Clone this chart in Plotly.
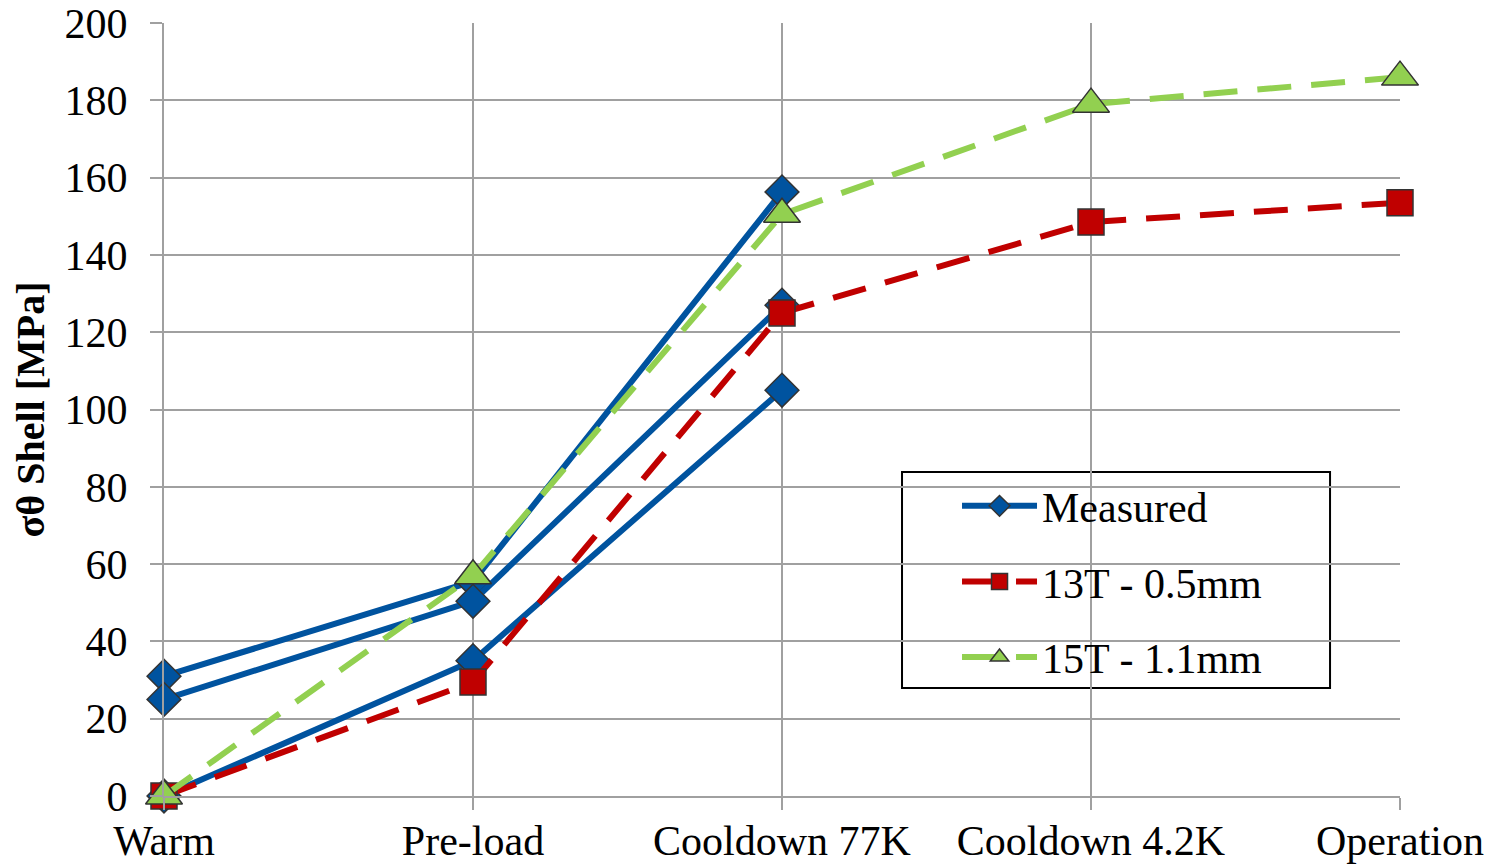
import plotly.graph_objects as go

stages = ["Warm", "Pre-load", "Cooldown 77K", "Cooldown 4.2K", "Operation"]

measured_a = [31, 55.5, 156.3]
measured_b = [25, 50.4, 127]
measured_c = [0, 35, 105]
t13 = [0, 29.5, 125, 148.5, 153.5]
t15 = [0, 57, 150.5, 179, 186]

blue = "#00539F"
red = "#C00000"
green = "#92D050"
edge = "#333333"
FONT = "Liberation Serif, Times New Roman, serif"

fig = go.Figure()

for i, ys in enumerate([measured_a, measured_b, measured_c]):
    fig.add_trace(go.Scatter(
        x=stages[:len(ys)], y=ys, mode="lines+markers",
        name="Measured", legendgroup="m", showlegend=(i == 0),
        line=dict(color=blue, width=6),
        marker=dict(symbol="diamond", size=26, color=blue, line=dict(color=edge, width=1.5)),
        cliponaxis=False,
    ))

fig.add_trace(go.Scatter(
    x=stages, y=t13, mode="lines+markers", name="13T - 0.5mm", legendgroup="a",
    line=dict(color=red, width=6, dash="34px,20px"),
    marker=dict(symbol="square", size=26, color=red, line=dict(color=edge, width=1.5)),
    cliponaxis=False,
))
fig.add_trace(go.Scatter(
    x=stages, y=t15, mode="lines+markers", name="15T - 1.1mm", legendgroup="b",
    line=dict(color=green, width=6, dash="34px,20px"),
    marker=dict(symbol="triangle-up", size=32, color=green, line=dict(color=edge, width=1.5)),
    cliponaxis=False,
))

grid = "#A0A0A0"
fig.update_layout(
    width=1487, height=858,
    margin=dict(l=156, r=95, t=15, b=70),
    paper_bgcolor="white", plot_bgcolor="white",
    font=dict(family=FONT, size=42, color="black"),
    showlegend=True,
    legend=dict(
        x=0.6416, y=0.4191, xanchor="left", yanchor="top",
        borderwidth=0, bgcolor="rgba(0,0,0,0)",
        font=dict(family=FONT, size=42), traceorder="grouped", tracegroupgap=18,
        itemwidth=75,
    ),
    shapes=[dict(
        type="rect", xref="paper", yref="paper",
        x0=0.5971, x1=0.9434, y0=0.1397, y1=0.4191,
        line=dict(color="black", width=2), fillcolor="white", layer="between",
    )],
    xaxis=dict(
        type="category", categoryorder="array", categoryarray=stages,
        range=[0, 4], showgrid=True, gridcolor=grid, gridwidth=2,
        ticks="outside", ticklen=12, tickcolor=grid, tickwidth=2,
        showline=True, linecolor=grid, linewidth=2,
        tickfont=dict(family=FONT, size=42), zeroline=False, automargin=False,
        ticklabelstandoff=-5, ticklabeloverflow="allow",
    ),
    yaxis=dict(
        range=[0, 200], dtick=20, showgrid=True, gridcolor=grid, gridwidth=2,
        ticks="outside", ticklen=12, tickcolor=grid, tickwidth=2,
        showline=True, linecolor=grid, linewidth=2, zeroline=False,
        tickfont=dict(family=FONT, size=42), ticklabelstandoff=14, automargin=False,
        ticklabeloverflow="allow",
        title=dict(text="<b>σθ Shell [MPa]</b>", font=dict(family=FONT, size=40), standoff=8),
    ),
)

fig.write_html("out.html")
